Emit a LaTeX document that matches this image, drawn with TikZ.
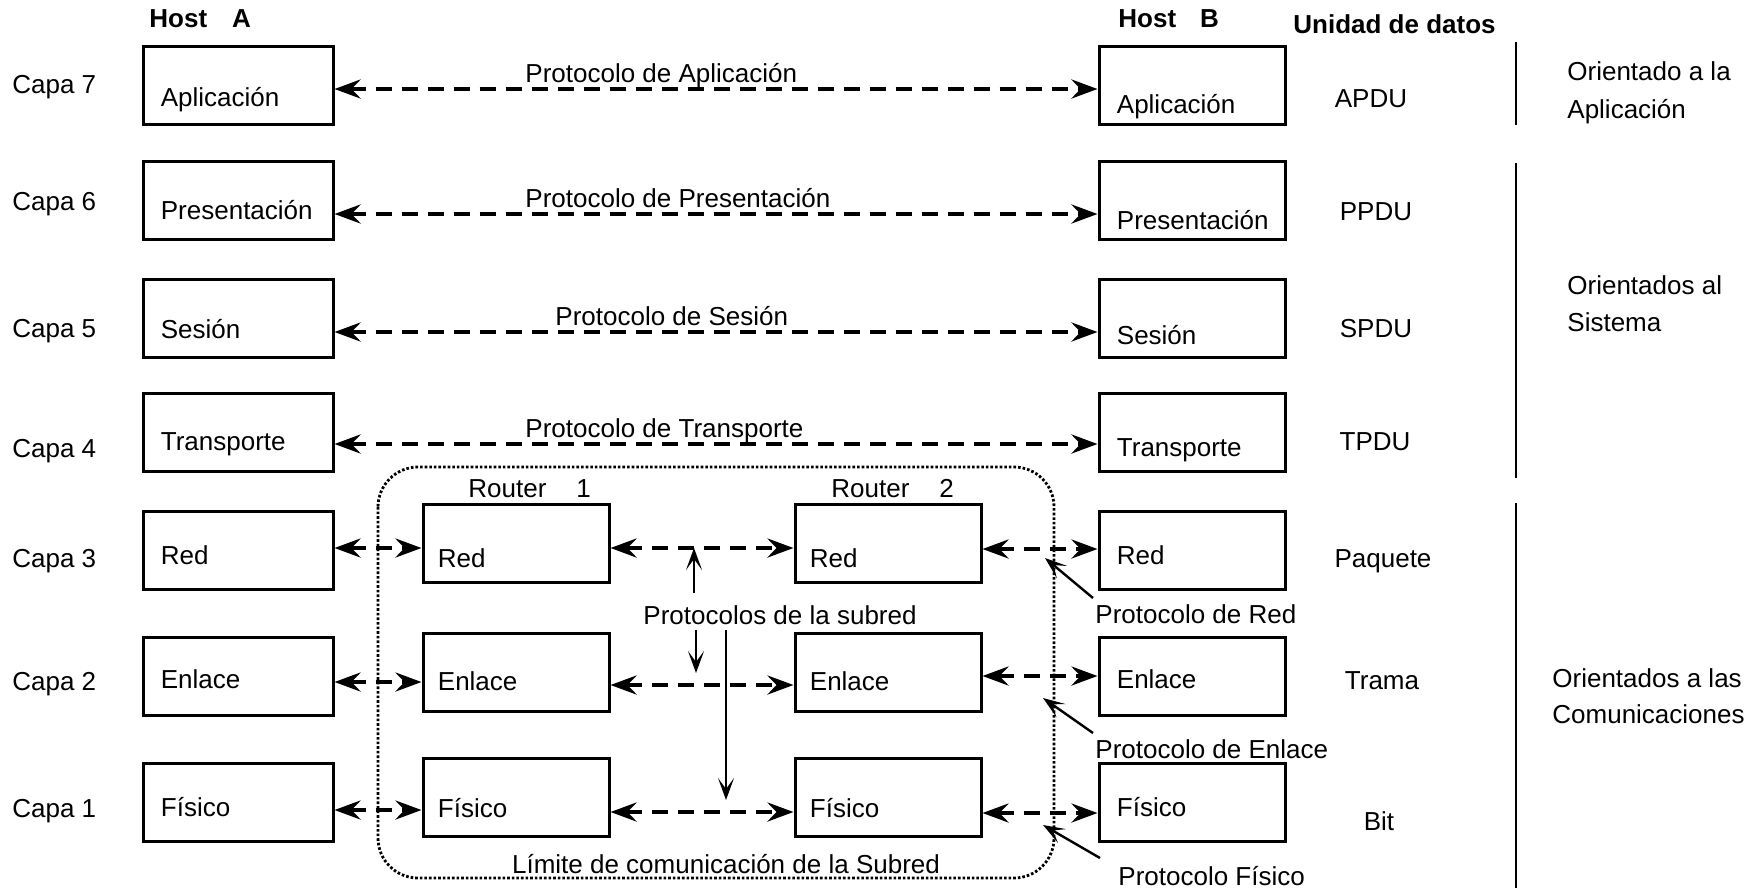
\documentclass[tikz,border=0pt]{standalone}
\usepackage{fontspec}
\setmainfont{Liberation Sans}
\usetikzlibrary{arrows.meta,calc}
\begin{document}
\begin{tikzpicture}[x=0.5pt,y=-0.5pt,
  every node/.style={font=\fontsize{13}{15.6}\selectfont, inner sep=0pt},
  layer/.style={draw, line width=1.5pt, minimum width=93pt, minimum height=39pt},
  lbl/.style={anchor=base west},
  ctr/.style={anchor=base},
  hdr/.style={anchor=base west, font=\fontsize{13}{15.6}\selectfont\bfseries},
  peer/.style={line width=2.3pt, dash pattern=on 8pt off 5pt,
    {Stealth[length=13pt,width=9.5pt,inset=4.5pt]}-{Stealth[length=13pt,width=9.5pt,inset=4.5pt]}},
  pointer/.style={line width=1.2pt, -{Stealth[length=11pt,width=8pt,inset=5.5pt]}},
  divider/.style={line width=1.3pt},
  bound/.style={line width=1.4pt, dash pattern=on 1.3pt off 1pt, rounded corners=20pt}
]
\useasboundingbox (0,0) rectangle (1764,890);

% headers
\node[hdr] (hA) at (149,27) {Host\hspace{12.5pt}A};
\node[hdr] (hB) at (1118,27) {Host\hspace{12pt}B};
\node[hdr] (hU) at (1293,33) {Unidad de datos};

% layer numbers
\node[lbl] (c7) at (12,93) {Capa 7};
\node[lbl] (c6) at (12,210) {Capa 6};
\node[lbl] (c5) at (12,337) {Capa 5};
\node[lbl] (c4) at (12,457) {Capa 4};
\node[lbl] (c3) at (12,567) {Capa 3};
\node[lbl] (c2) at (12,690) {Capa 2};
\node[lbl] (c1) at (12,817) {Capa 1};

% host A stack
\node[layer, minimum width=95pt] (A7) at (238,85) {};
\node[layer, minimum width=95pt] (A6) at (238,200) {};
\node[layer, minimum width=95pt] (A5) at (238,318.5) {};
\node[layer, minimum width=95pt] (A4) at (238,432) {};
\node[layer, minimum width=95pt] (A3) at (238,550) {};
\node[layer, minimum width=95pt] (A2) at (238,676) {};
\node[layer, minimum width=95pt] (A1) at (238,802) {};
\node[lbl] (A7t) at ($(A7.west)+(19,21)$) {Aplicación};
\node[lbl] (A6t) at ($(A6.west)+(19,19)$) {Presentación};
\node[lbl] (A5t) at ($(A5.west)+(19,19.5)$) {Sesión};
\node[lbl] (A4t) at ($(A4.west)+(19,18)$) {Transporte};
\node[lbl] (A3t) at ($(A3.west)+(19,14)$) {Red};
\node[lbl] (A2t) at ($(A2.west)+(19,12)$) {Enlace};
\node[lbl] (A1t) at ($(A1.west)+(19,14)$) {Físico};

% host B stack
\node[layer] (B7) at (1192,85) {};
\node[layer] (B6) at (1192,200) {};
\node[layer] (B5) at (1192,318.5) {};
\node[layer] (B4) at (1192,432) {};
\node[layer] (B3) at (1192,550) {};
\node[layer] (B2) at (1192,676) {};
\node[layer] (B1) at (1192,802) {};
\node[lbl] (B7t) at ($(B7.west)+(19,28)$) {Aplicación};
\node[lbl] (B6t) at ($(B6.west)+(19,29)$) {Presentación};
\node[lbl] (B5t) at ($(B5.west)+(19,25.5)$) {Sesión};
\node[lbl] (B4t) at ($(B4.west)+(19,24)$) {Transporte};
\node[lbl] (B3t) at ($(B3.west)+(19,14)$) {Red};
\node[lbl] (B2t) at ($(B2.west)+(19,12)$) {Enlace};
\node[lbl] (B1t) at ($(B1.west)+(19,14)$) {Físico};

% routers
\node[layer] (R13) at (516,543.5) {};
\node[layer] (R12) at (516,672) {};
\node[layer] (R11) at (516,797.5) {};
\node[layer] (R23) at (888,543.5) {};
\node[layer] (R22) at (888,672) {};
\node[layer] (R21) at (888,797.5) {};
\node[lbl] (R13t) at ($(R13.west)+(16,23.5)$) {Red};
\node[lbl] (R12t) at ($(R12.west)+(16,18)$) {Enlace};
\node[lbl] (R11t) at ($(R11.west)+(16,19.5)$) {Físico};
\node[lbl] (R23t) at ($(R23.west)+(16,23.5)$) {Red};
\node[lbl] (R22t) at ($(R22.west)+(16,18)$) {Enlace};
\node[lbl] (R21t) at ($(R21.west)+(16,19.5)$) {Físico};
\node[lbl] (R1h) at (468,497) {Router\hspace{15pt}1};
\node[lbl] (R2h) at (831,497) {Router\hspace{15pt}2};

% subnet boundary
\draw[bound] (378,467) rectangle (1054,878);
\node[ctr] (lim) at (726,873) {Límite de comunicación de la Subred};

% end-to-end protocols
\draw[peer] ($(A7.east)+(0,4)$) -- ($(B7.west)+(0,4)$);
\draw[peer] ($(A6.east)+(0,14)$) -- ($(B6.west)+(0,14)$);
\draw[peer] ($(A5.east)+(0,13.5)$) -- ($(B5.west)+(0,13.5)$);
\draw[peer] ($(A4.east)+(0,12)$) -- ($(B4.west)+(0,12)$);
\node[lbl] (p7) at (525,82) {Protocolo de Aplicación};
\node[lbl] (p6) at (525,207) {Protocolo de Presentación};
\node[lbl] (p5) at (555,325) {Protocolo de Sesión};
\node[lbl] (p4) at (525,437) {Protocolo de Transporte};

% hop-by-hop protocols
\draw[peer] ($(A3.east)+(0,-2)$) -- ($(R13.west)+(0,4.5)$);
\draw[peer] ($(R13.east)+(0,4.5)$) -- ($(R23.west)+(0,4.5)$);
\draw[peer] ($(R23.east)+(0,5.5)$) -- ($(B3.west)+(0,-1)$);
\draw[peer] ($(A2.east)+(0,6)$) -- ($(R12.west)+(0,10)$);
\draw[peer] ($(R12.east)+(0,13)$) -- ($(R22.west)+(0,13)$);
\draw[peer] ($(R22.east)+(0,4)$) -- ($(B2.west)+(0,0)$);
\draw[peer] ($(A1.east)+(0,8)$) -- ($(R11.west)+(0,12.5)$);
\draw[peer] ($(R11.east)+(0,14.5)$) -- ($(R21.west)+(0,14.5)$);
\draw[peer] ($(R21.east)+(0,15.5)$) -- ($(B1.west)+(0,11)$);

% subnet protocol callout
\node[ctr] (sub) at (780,624) {Protocolos de la subred};
\coordinate (su0) at (694,593);
\coordinate (su1) at (694,548);
\coordinate (sd0) at (696,630);
\coordinate (sd1) at (696,673);
\coordinate (sl0) at (726,630);
\coordinate (sl1) at (726,800);
\draw[pointer] (su0) -- (su1);
\draw[pointer] (sd0) -- (sd1);
\draw[pointer] (sl0) -- (sl1);

% host-to-router protocol callouts
\node[lbl] (pR) at (1095,623) {Protocolo de Red};
\node[lbl] (pE) at (1095,758) {Protocolo de Enlace};
\node[lbl] (pF) at (1118,885) {Protocolo Físico};
\coordinate (pR0) at (1093,598);
\coordinate (pR1) at (1045,558);
\coordinate (pE0) at (1093,733);
\coordinate (pE1) at (1043,698);
\coordinate (pF0) at (1100,858);
\coordinate (pF1) at (1043,825);
\draw[pointer] (pR0) -- (pR1);
\draw[pointer] (pE0) -- (pE1);
\draw[pointer] (pF0) -- (pF1);

% data units
\node[ctr] (u7) at (1371,107) {APDU};
\node[ctr] (u6) at (1376,220) {PPDU};
\node[ctr] (u5) at (1376,337) {SPDU};
\node[ctr] (u4) at (1375,450) {TPDU};
\node[ctr] (u3) at (1383,567) {Paquete};
\node[ctr] (u2) at (1382,689) {Trama};
\node[ctr] (u1) at (1379,830) {Bit};

% layer groups
\coordinate (g1a) at (1516,42);
\coordinate (g1b) at (1516,125);
\coordinate (g2a) at (1516,163);
\coordinate (g2b) at (1516,478);
\coordinate (g3a) at (1516,503);
\coordinate (g3b) at (1516,888);
\draw[divider] (g1a) -- (g1b);
\draw[divider] (g2a) -- (g2b);
\draw[divider] (g3a) -- (g3b);
\node[lbl] (o1a) at (1567,80) {Orientado a la};
\node[lbl] (o1b) at (1567,118) {Aplicación};
\node[lbl] (o2a) at (1567,294) {Orientados al};
\node[lbl] (o2b) at (1567,331) {Sistema};
\node[lbl] (o3a) at (1552,687) {Orientados a las};
\node[lbl] (o3b) at (1552,723) {Comunicaciones};
\end{tikzpicture}
\end{document}
